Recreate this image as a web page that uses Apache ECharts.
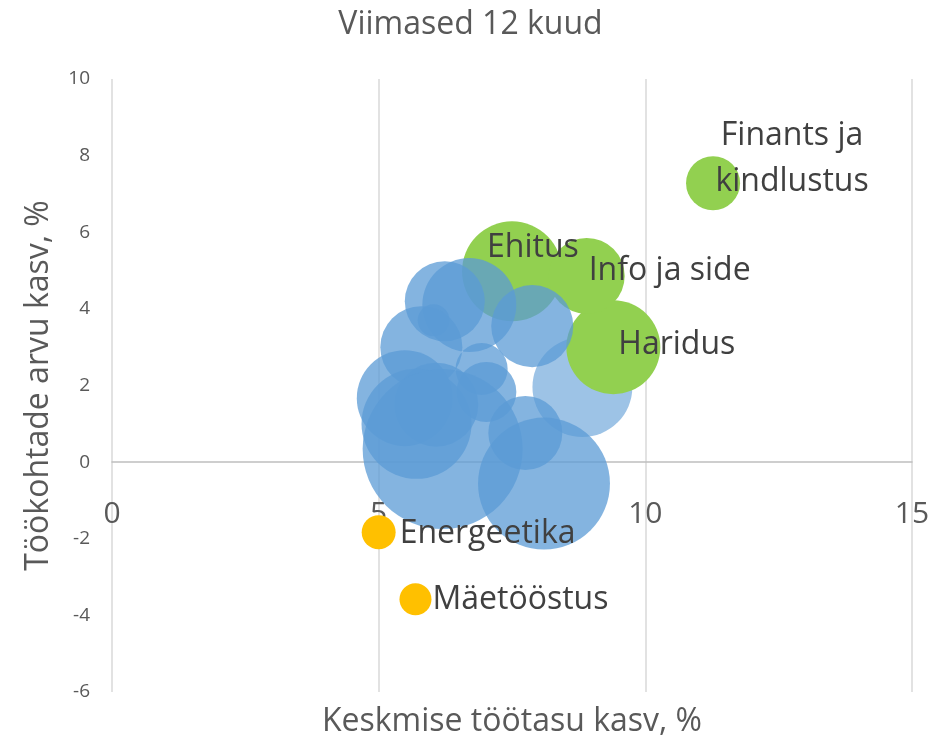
<!DOCTYPE html>
<html>
<head>
<meta charset="utf-8">
<script src="https://cdn.jsdelivr.net/npm/echarts@6/dist/echarts.min.js"></script>
<style>
html,body{margin:0;padding:0;background:#fff;}
#chart{width:941px;height:742px;}
</style>
</head>
<body>
<div id="chart"></div>
<script>
// Data (draw order matters for overlaps)
const labels = ['', 'Haridus', 'Ehitus', 'Info ja side', 'Finants ja\nkindlustus',
  '', '', '', '', '', '', '', '', '', '', '', '', '',
  'Energeetika', 'Mäetööstus'];
const groups = ['light', 'green', 'green', 'green', 'green',
  'blue', 'blue', 'blue', 'blue', 'blue', 'blue', 'blue', 'blue', 'blue', 'blue', 'blue', 'blue', 'blue',
  'orange', 'orange'];
const wageGrowth = [8.82, 9.4, 7.5, 8.9, 11.27,
  6.24, 6.7, 6.03, 5.8, 7.88, 6.93, 7.02, 5.49, 6.08, 5.71, 6.2, 7.75, 8.1,
  5.0, 5.69];
const jobGrowth = [1.96, 3.0, 4.98, 4.86, 7.28,
  4.2, 4.1, 3.7, 3.0, 3.55, 2.43, 1.83, 1.67, 1.5, 1.0, 0.34, 0.76, -0.56,
  -1.83, -3.58];
const sizes = [39, 34.5, 39, 22.6, 11.4,
  25, 34.5, 4, 26.3, 26.3, 10.6, 14, 36, 27.6, 47.3, 100, 21.4, 68,
  4.5, 4];
const xTicks = [0, 5, 10, 15];
const yTicks = [-6, -4, -2, 0, 2, 4, 6, 8, 10];

const FONT = 'Open Sans';
const W = 941, H = 742;
const GRID = {left: 112, right: 29, top: 79, bottom: 50};
const yMin = yTicks[0], yMax = yTicks[yTicks.length - 1];
const plotH = H - GRID.top - GRID.bottom;
// move the x axis (line + labels) up to y = 0
const xAxisOffset = -plotH * (0 - yMin) / (yMax - yMin);

const colors = {
  light: {color: '#9DC3E6', opacity: 1},
  green: {color: '#92D050', opacity: 1},
  blue: {color: '#5B9BD5', opacity: 0.75},
  orange: {color: '#FFC000', opacity: 1}
};
const labelOffsets = {
  'Haridus': {align: 'left', offset: [5, -2]},
  'Ehitus': {align: 'left', offset: [-25, -23]},
  'Info ja side': {align: 'left', offset: [2, -5]},
  'Finants ja\nkindlustus': {align: 'center', offset: [79, -24]},
  'Energeetika': {align: 'left', offset: [21, 2]},
  'Mäetööstus': {align: 'left', offset: [17, 1]}
};

const data = labels.map((lab, i) => {
  const c = colors[groups[i]];
  const item = {
    value: [wageGrowth[i], jobGrowth[i], sizes[i]],
    name: lab,
    itemStyle: {color: c.color, opacity: c.opacity}
  };
  if (lab) {
    const lo = labelOffsets[lab];
    item.label = {
      show: true, position: 'inside', formatter: lab,
      align: lo.align, offset: lo.offset,
      fontFamily: FONT, fontSize: 32, color: '#404040', lineHeight: 46
    };
  }
  return item;
});

const chart = echarts.init(document.getElementById('chart'), null, {renderer: 'canvas'});
chart.setOption({
  animation: false,
  backgroundColor: '#fff',
  title: {
    text: 'Viimased 12 kuud', left: 'center', top: 4,
    textStyle: {fontFamily: FONT, fontSize: 32, fontWeight: 'normal', color: '#595959'}
  },
  grid: Object.assign({containLabel: false, outerBoundsMode: 'none'}, GRID),
  xAxis: {
    type: 'value', min: xTicks[0], max: xTicks[xTicks.length - 1], interval: 5,
    offset: xAxisOffset,
    name: 'Keskmise töötasu kasv, %', nameLocation: 'middle', nameGap: 244,
    nameTextStyle: {fontFamily: FONT, fontSize: 32, color: '#595959'},
    axisLine: {show: true, onZero: false, lineStyle: {color: '#BFBFBF', width: 1.5}},
    axisTick: {show: false},
    axisLabel: {fontFamily: FONT, fontSize: 30, color: '#595959', margin: 37},
    splitLine: {show: true, lineStyle: {color: '#D9D9D9', width: 1.5}}
  },
  yAxis: {
    type: 'value', min: yMin, max: yMax, interval: 2,
    name: 'Töökohtade arvu kasv, %', nameLocation: 'middle', nameGap: 57, nameRotate: 90,
    nameTextStyle: {fontFamily: FONT, fontSize: 32, color: '#595959'},
    axisLine: {show: false},
    axisTick: {show: false},
    axisLabel: {fontFamily: FONT, fontSize: 19, color: '#595959', margin: 22},
    splitLine: {show: false}
  },
  series: [{
    type: 'scatter',
    data: data,
    symbol: 'circle',
    symbolSize: v => 16 * Math.sqrt(v[2]),
    label: {show: false},
    emphasis: {disabled: true}
  }]
});
</script>
</body>
</html>
